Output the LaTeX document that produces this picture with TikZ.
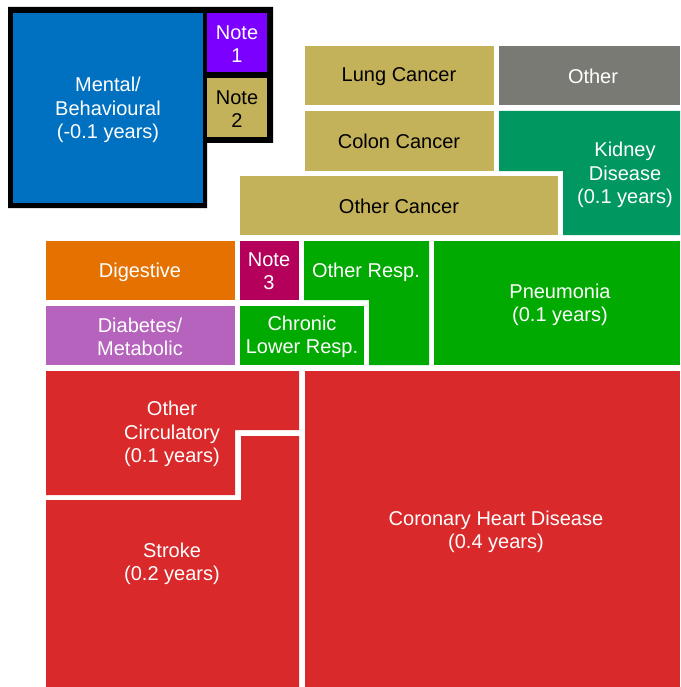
\documentclass[tikz,border=0pt]{standalone}
\usepackage{fontspec}
\setmainfont{Liberation Sans}
\definecolor{cblue}{HTML}{0070C0}
\definecolor{cviolet}{HTML}{7B00FF}
\definecolor{ctan}{HTML}{C4B25A}
\definecolor{cgrey}{HTML}{7A7A75}
\definecolor{cteal}{HTML}{009760}
\definecolor{corange}{HTML}{E57200}
\definecolor{cmagenta}{HTML}{B5005B}
\definecolor{cgreen}{HTML}{00AA00}
\definecolor{cpurple}{HTML}{B563BC}
\definecolor{cred}{HTML}{D9292A}
\tikzset{
  lbl/.style={align=center, text=white, font=\fontsize{20}{23.5}\selectfont, inner sep=0pt},
  dlbl/.style={lbl, text=black},
}
\begin{document}
\begin{tikzpicture}[x=1pt,y=-1pt]
\useasboundingbox (0,0) rectangle (680,687);
% black frame
\fill[black] (8,7) -- (273,7) -- (273,143) -- (207,143) -- (207,208) -- (8,208) -- cycle;
\fill[cblue] (13,13) rectangle (203,203);
\fill[cviolet] (207,13) rectangle (267,72);
\fill[ctan] (207,78) rectangle (267,137);
% cancers and others
\fill[ctan] (305,46) rectangle (494,105);
\fill[cgrey] (499,46) rectangle (680,105);
\fill[ctan] (305,111) rectangle (494,171);
\fill[cteal] (499,111) -- (680,111) -- (680,235) -- (563,235) -- (563,171) -- (499,171) -- cycle;
\fill[ctan] (240,176) rectangle (558,235);
% middle row
\fill[corange] (46,241) rectangle (235,300);
\fill[cmagenta] (240,241) rectangle (299,300);
\fill[cgreen] (304,241) -- (429,241) -- (429,365) -- (369,365) -- (369,300) -- (304,300) -- cycle;
\fill[cgreen] (434,241) rectangle (680,365);
\fill[cpurple] (46,306) rectangle (235,365);
\fill[cgreen] (240,306) rectangle (364,365);
% circulatory
\fill[cred] (46,371) -- (299,371) -- (299,430) -- (235,430) -- (235,495) -- (46,495) -- cycle;
\fill[cred] (241,436) -- (299,436) -- (299,687) -- (46,687) -- (46,500) -- (241,500) -- cycle;
\fill[cred] (305,371) rectangle (680,687);
% labels
\node[lbl] (mental) at (108,110) {Mental/\\Behavioural\\(-0.1 years)};
\node[lbl] (note1) at (237,44) {Note\\1};
\node[dlbl] (note2) at (237,109) {Note\\2};
\node[dlbl] (lung) at (399,77) {Lung Cancer};
\node[lbl] (other) at (593,76) {Other};
\node[dlbl] (colon) at (399,141) {Colon Cancer};
\node[lbl] (kidney) at (625,175) {Kidney\\Disease\\(0.1 years)};
\node[dlbl] (othercancer) at (399,206) {Other Cancer};
\node[lbl] (digestive) at (140,272) {Digestive};
\node[lbl] (note3) at (269,271) {Note\\3};
\node[lbl] (otherresp) at (366,272) {Other Resp.};
\node[lbl] (pneumonia) at (560,305) {Pneumonia\\(0.1 years)};
\node[lbl] (diabetes) at (140,337) {Diabetes/\\Metabolic};
\node[lbl] (chronic) at (302,337) {Chronic\\Lower Resp.};
\node[lbl] (othercirc) at (172,434) {Other\\Circulatory\\(0.1 years)};
\node[lbl] (stroke) at (172,564) {Stroke\\(0.2 years)};
\node[lbl] (coronary) at (496,532) {Coronary Heart Disease\\(0.4 years)};
\end{tikzpicture}
\end{document}
